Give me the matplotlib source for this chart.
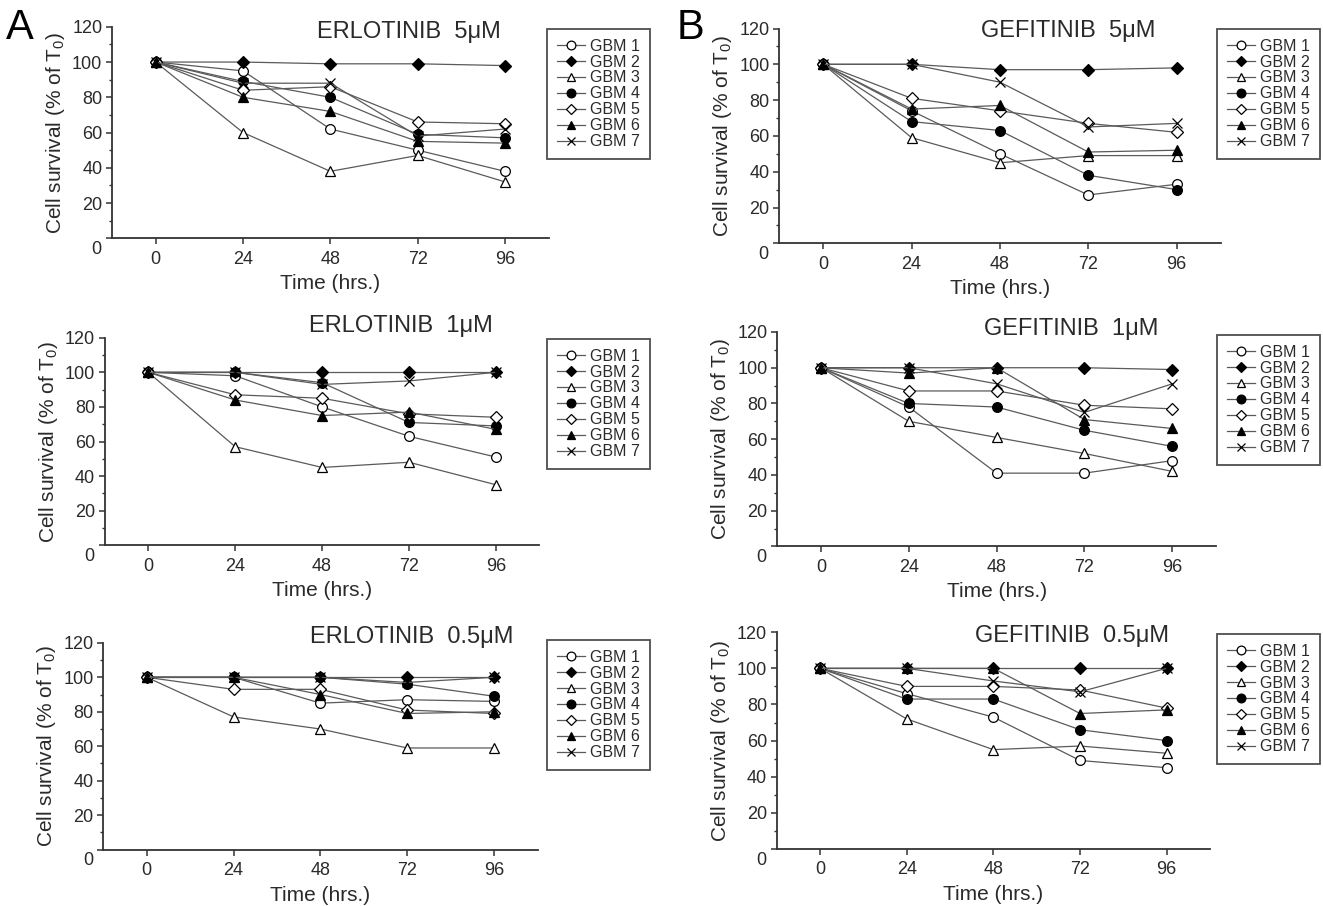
import matplotlib
matplotlib.use('Agg')
import matplotlib.pyplot as plt
from matplotlib.ticker import MultipleLocator, FuncFormatter

plt.rcParams['font.family'] = ['Liberation Sans', 'DejaVu Sans']
plt.rcParams['mathtext.default'] = 'regular'

# %% data (cell survival, % of T0)
hours = [0, 24, 48, 72, 96]
lines = ['GBM 1', 'GBM 2', 'GBM 3', 'GBM 4', 'GBM 5', 'GBM 6', 'GBM 7']

erl_5 = [[100, 95, 62, 50, 38],
         [100, 100, 99, 99, 98],
         [100, 60, 38, 47, 32],
         [100, 89, 80, 59, 57],
         [100, 84, 86, 66, 65],
         [100, 80, 72, 55, 54],
         [100, 88, 88, 58, 62]]
erl_1 = [[100, 98, 80, 63, 51],
         [100, 100, 100, 100, 100],
         [100, 57, 45, 48, 35],
         [100, 100, 94, 71, 69],
         [100, 87, 85, 76, 74],
         [100, 84, 75, 77, 67],
         [100, 100, 93, 95, 100]]
erl_05 = [[100, 100, 85, 87, 86],
          [100, 100, 100, 100, 100],
          [100, 77, 70, 59, 59],
          [100, 100, 100, 96, 89],
          [100, 93, 93, 81, 79],
          [100, 100, 90, 79, 80],
          [100, 100, 100, 97, 100]]
gef_5 = [[100, 74, 50, 27, 33],
         [100, 100, 97, 97, 98],
         [100, 59, 45, 49, 49],
         [100, 68, 63, 38, 30],
         [100, 81, 74, 67, 62],
         [100, 75, 77, 51, 52],
         [100, 100, 90, 65, 67]]
gef_1 = [[100, 78, 41, 41, 48],
         [100, 100, 100, 100, 99],
         [100, 70, 61, 52, 42],
         [100, 80, 78, 65, 56],
         [100, 87, 87, 79, 77],
         [100, 97, 100, 71, 66],
         [100, 100, 91, 75, 91]]
gef_05 = [[100, 86, 73, 49, 45],
          [100, 100, 100, 100, 100],
          [100, 72, 55, 57, 53],
          [100, 83, 83, 66, 60],
          [100, 90, 90, 88, 78],
          [100, 100, 100, 75, 77],
          [100, 100, 93, 87, 100]]

titles = ['ERLOTINIB  5\u03bcM', 'ERLOTINIB  1\u03bcM', 'ERLOTINIB  0.5\u03bcM',
          'GEFITINIB  5\u03bcM', 'GEFITINIB  1\u03bcM', 'GEFITINIB  0.5\u03bcM']
panels = [erl_5, erl_1, erl_05, gef_5, gef_1, gef_05]

# marker, face colour per line
styles = [('o', 'white'), ('D', 'black'), ('^', 'white'), ('o', 'black'),
          ('D', 'white'), ('^', 'black'), ('x', 'black')]

W, H = 1323, 906
# axes boxes in pixels: left, x-axis y (value 0), width, top (value 120)
boxes = [(112.0, 238.3, 436.7, 26.8),
         (104.8, 545.3, 434.6, 337.7),
         (103.3, 849.7, 434.2, 642.8),
         (779.1, 243.3, 441.7, 28.5),
         (777.1, 546.4, 439.0, 332.0),
         (776.7, 849.0, 433.3, 632.2)]
# title centres in pixels
title_pos = [(409, 32), (401, 326), (412, 637), (1068, 31), (1071, 329), (1072, 636)]
# legend upper-left corners in pixels
legend_pos = [(547, 29), (547, 339), (547, 640), (1217, 29), (1217, 335), (1217, 634)]

txt = '#2a2a2a'
line_col = '#5a5a5a'

fig = plt.figure(figsize=(W / 100, H / 100), dpi=100)

for k in range(6):
    left, y0, wid, ytop = boxes[k]
    hgt = y0 - ytop
    ax = fig.add_axes([left / W, 1 - y0 / H, wid / W, hgt / H])
    data = panels[k]
    for i in range(7):
        m, fc = styles[i]
        ms = 7 if m != 'D' else 6
        ax.plot(hours, data[i], color=line_col, lw=0.9, marker=m, ms=ms,
                mfc=fc, mec='black', mew=0.9, label=lines[i], zorder=3 + i * 0.1)
    ax.set_xlim(-12, 108)
    ax.set_ylim(0, 120)
    ax.set_xticks(hours)
    ax.yaxis.set_major_locator(MultipleLocator(20))
    ax.yaxis.set_minor_locator(MultipleLocator(10))
    # the "0" of the y axis is drawn separately, a little below the axis line
    ax.yaxis.set_major_formatter(FuncFormatter(lambda v, p: '' if v == 0 else '%d' % v))
    ax.annotate('0', xy=(0, 0), xycoords=('axes fraction', 'data'), xytext=(-7.5, -8),
                textcoords='offset points', ha='right', va='center', fontsize=13, color=txt)
    for s in ['top', 'right']:
        ax.spines[s].set_visible(False)
    for s in ['left', 'bottom']:
        ax.spines[s].set_linewidth(1.3)
        ax.spines[s].set_color('#333333')
    ax.tick_params(which='major', direction='out', length=4, width=1.1,
                   colors='#333333', labelcolor=txt, labelsize=13, pad=3)
    ax.tick_params(which='minor', direction='out', length=2.5, width=1.0, colors='#333333')
    ax.tick_params(axis='x', pad=5)

    ax.set_xlabel('Time (hrs.)', fontsize=15, color=txt)
    ax.xaxis.set_label_coords(0.5, -36 / hgt)
    ax.set_ylabel('Cell survival (% of T$_0$)', fontsize=15, color=txt)
    ax.yaxis.set_label_coords(-45 / wid, 0.5)

    tx, ty = title_pos[k]
    fig.text(tx / W, 1 - ty / H, titles[k], fontsize=17, color=txt, ha='center', va='center')

    lx, ly = legend_pos[k]
    leg = ax.legend(loc='upper left', bbox_to_anchor=(lx / W, 1 - ly / H),
                    bbox_transform=fig.transFigure, fontsize=11.5, frameon=True,
                    fancybox=False, edgecolor='#222222', handlelength=1.8,
                    handletextpad=0.3, labelspacing=0.06, borderpad=0.6,
                    borderaxespad=0, markerscale=0.9)
    leg.get_frame().set_linewidth(1.3)
    for t in leg.get_texts():
        t.set_color(txt)

fig.text(20 / W, 1 - 28 / H, 'A', fontsize=30, color='black', ha='center', va='center')
fig.text(690 / W, 1 - 28 / H, 'B', fontsize=30, color='black', ha='center', va='center')

fig.savefig('out.png', dpi=100)
